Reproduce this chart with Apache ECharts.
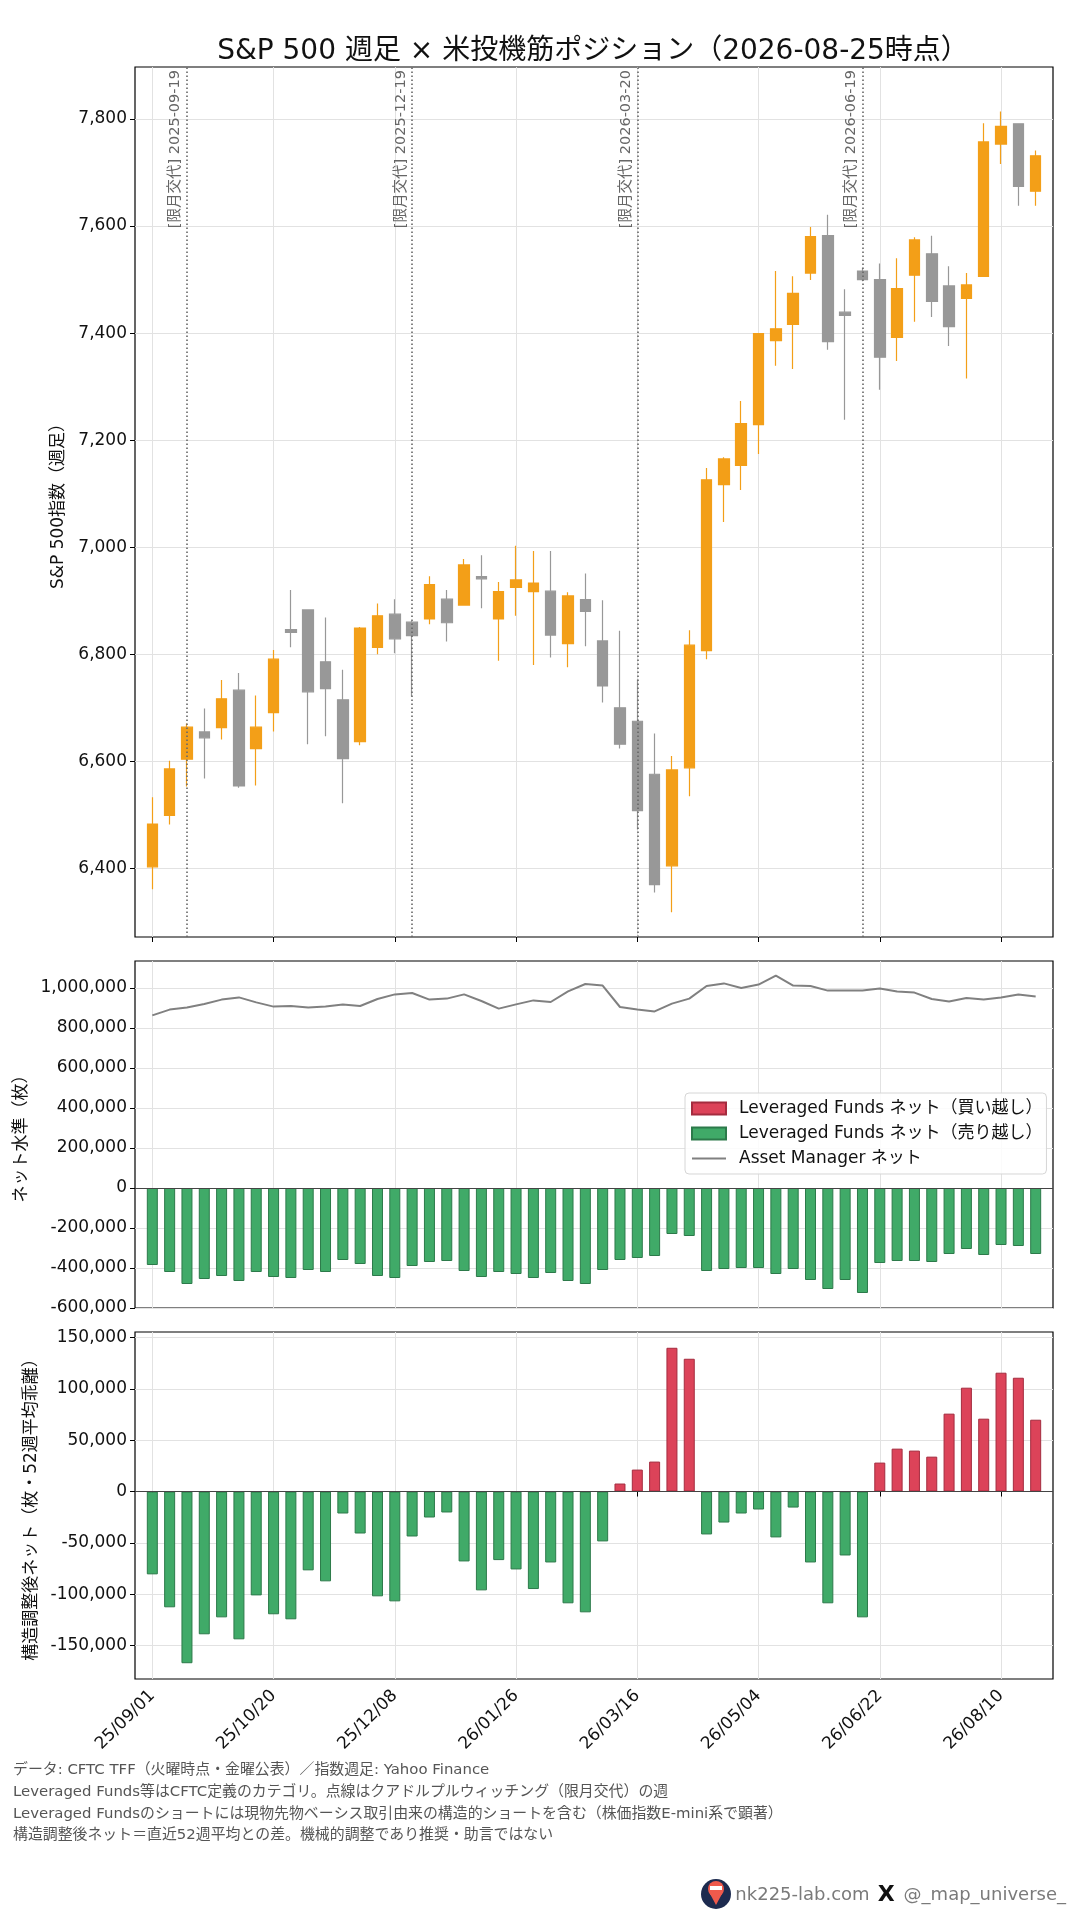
<!DOCTYPE html>
<html>
<head>
<meta charset="utf-8">
<script src="https://cdn.jsdelivr.net/npm/echarts@6/dist/echarts.min.js"></script>
<style>
  html, body { margin: 0; padding: 0; background: #fff; }
  #chart { width: 1080px; height: 1920px; }
</style>
</head>
<body>
<div id="chart"></div>
<script>
// weekly bars (Monday dates)
const WEEKS = [
  '25/09/01', '25/09/08', '25/09/15', '25/09/22', '25/09/29', '25/10/06', '25/10/13',
  '25/10/20', '25/10/27', '25/11/03', '25/11/10', '25/11/17', '25/11/24', '25/12/01',
  '25/12/08', '25/12/15', '25/12/22', '25/12/29', '26/01/05', '26/01/12', '26/01/19',
  '26/01/26', '26/02/02', '26/02/09', '26/02/16', '26/02/23', '26/03/02', '26/03/09',
  '26/03/16', '26/03/23', '26/03/30', '26/04/06', '26/04/13', '26/04/20', '26/04/27',
  '26/05/04', '26/05/11', '26/05/18', '26/05/25', '26/06/01', '26/06/08', '26/06/15',
  '26/06/22', '26/06/29', '26/07/06', '26/07/13', '26/07/20', '26/07/27', '26/08/03',
  '26/08/10', '26/08/17', '26/08/24'
];

const OPEN = [
  6403, 6499, 6604, 6655, 6663, 6733, 6624, 6691, 6846, 6883, 6786, 6715, 6637,
  6813, 6875, 6860, 6866, 6903, 6892, 6945, 6866, 6925, 6917, 6918, 6820, 6902,
  6825, 6700, 6675, 6576, 6405, 6588, 6807, 7117, 7153, 7229, 7386, 7416, 7512,
  7582, 7439, 7516, 7500, 7392, 7508, 7548, 7488, 7465, 7506, 7753, 7791, 7665
];
const CLOSE = [
  6483, 6586, 6664, 6644, 6717, 6554, 6664, 6791, 6841, 6730, 6736, 6605, 6849,
  6872, 6829, 6835, 6930, 6859, 6967, 6941, 6917, 6939, 6933, 6836, 6909, 6880,
  6741, 6632, 6508, 6370, 6584, 6817, 7126, 7165, 7231, 7399, 7408, 7474, 7580,
  7384, 7433, 7500, 7355, 7483, 7574, 7459, 7412, 7490, 7757, 7786, 7674, 7731
];
const LOW = [
  6361, 6482, 6553, 6568, 6641, 6551, 6555, 6656, 6813, 6632, 6647, 6522, 6630,
  6800, 6802, 6721, 6856, 6824, 6891, 6886, 6788, 6872, 6780, 6794, 6776, 6815,
  6710, 6624, 6473, 6355, 6318, 6535, 6791, 7047, 7107, 7174, 7339, 7333, 7499,
  7369, 7238, 7497, 7294, 7348, 7421, 7430, 7376, 7315, 7505, 7716, 7638, 7638
];
const HIGH = [
  6533, 6601, 6671, 6699, 6752, 6765, 6723, 6808, 6920, 6883, 6869, 6771, 6851,
  6895, 6903, 6862, 6946, 6920, 6978, 6985, 6935, 7003, 6993, 6993, 6916, 6951,
  6901, 6844, 6753, 6652, 6610, 6845, 7148, 7168, 7273, 7399, 7516, 7506, 7598,
  7621, 7482, 7522, 7530, 7540, 7579, 7582, 7525, 7512, 7792, 7814, 7791, 7741
];

// Leveraged Funds net / Asset Manager net (contracts)
const LF_NET = [
  -385000, -420000, -480000, -455000, -440000, -465000, -420000, -445000, -450000,
  -410000, -420000, -360000, -380000, -440000, -450000, -390000, -370000, -365000,
  -415000, -445000, -420000, -430000, -450000, -425000, -465000, -480000, -410000,
  -360000, -350000, -340000, -230000, -240000, -415000, -405000, -400000, -400000,
  -430000, -405000, -460000, -505000, -460000, -525000, -375000, -365000, -365000,
  -370000, -330000, -305000, -335000, -285000, -290000, -330000
];
const AM_NET = [
  863000, 892000, 903000, 920000, 942000, 953000, 928000, 907000, 910000, 903000,
  907000, 917000, 910000, 945000, 968000, 975000, 942000, 947000, 968000, 935000,
  897000, 918000, 938000, 930000, 983000, 1020000, 1012000, 905000, 893000, 883000,
  922000, 947000, 1010000, 1023000, 1000000, 1017000, 1062000, 1012000, 1010000,
  987000, 988000, 988000, 998000, 983000, 977000, 945000, 933000, 950000, 942000,
  953000, 967000, 958000
];
// structure-adjusted net (difference from trailing 52w mean)
const LF_ADJ = [
  -80700, -112800, -167300, -139100, -122600, -144000, -101200, -119600, -124500,
  -76800, -87500, -21400, -40900, -102100, -107000, -43800, -25300, -20400,
  -68100, -96300, -66800, -75900, -95000, -69100, -108900, -117700, -48600,
  7800, 21400, 29200, 140100, 129400, -41800, -30200, -21400, -17500,
  -44700, -15600, -69100, -108900, -62300, -122600, 28200, 41800, 39900,
  34000, 75900, 101200, 71000, 115800, 110900, 70000
];

const ROLL_WEEKS = ['25/09/15', '25/12/15', '26/03/16', '26/06/15'];
const ROLL_DATES = ['2025-09-19', '2025-12-19', '2026-03-20', '2026-06-19'];

const PRICE_TICKS = [6400, 6600, 6800, 7000, 7200, 7400, 7600, 7800];
const NET_TICKS = [-600000, -400000, -200000, 0, 200000, 400000, 600000, 800000, 1000000];
const ADJ_TICKS = [-150000, -100000, -50000, 0, 50000, 100000, 150000];

const TITLE = 'S&P 500 週足 × 米投機筋ポジション（2026-08-25時点）';
const NAME_LONG = 'Leveraged Funds ネット（買い越し）';
const NAME_SHORT = 'Leveraged Funds ネット（売り越し）';
const NAME_AM = 'Asset Manager ネット';
const FOOTER_LINES = [
  'データ: CFTC TFF（火曜時点・金曜公表）／指数週足: Yahoo Finance',
  'Leveraged Funds等はCFTC定義のカテゴリ。点線はクアドルプルウィッチング（限月交代）の週',
  'Leveraged Fundsのショートには現物先物ベーシス取引由来の構造的ショートを含む（株価指数E-mini系で顕著）',
  '構造調整後ネット＝直近52週平均との差。機械的調整であり推奨・助言ではない'
];

const FONT = "'DejaVu Sans', 'Noto Sans CJK JP', sans-serif";
const UP = '#f39f18';
const DOWN = '#989898';
const RED = '#dc4359';
const RED_EDGE = '#a42c3f';
const GREEN = '#40aa68';
const GREEN_EDGE = '#2c7a4a';
const GRID_COLOR = '#e2e2e2';

// one empty slot on each side gives matplotlib-like margins
const CATS = [' ', ...WEEKS, '  '];
const pad = (arr) => ['-', ...arr, '-'];
const tickAt = (i) => i >= 1 && (i - 1) % 7 === 0;
const fmt = (v) => v.toLocaleString('en-US');

const CANDLES = [['-', '-', '-', '-'],
  ...WEEKS.map((_, i) => [OPEN[i], CLOSE[i], LOW[i], HIGH[i]]),
  ['-', '-', '-', '-']];

const grids = [
  { left: 135, top: 67, width: 918, height: 870 },
  { left: 135, top: 961, width: 918, height: 347 },
  { left: 135, top: 1332, width: 918, height: 347 }
].map((g) => Object.assign(g, {
  show: true, borderColor: '#000', borderWidth: 1.2, backgroundColor: 'transparent',
  containLabel: false, outerBoundsMode: 'none'
}));

const xAxes = [0, 1, 2].map((gi) => ({
  type: 'category', gridIndex: gi, data: CATS, boundaryGap: false,
  axisLine: { show: false },
  axisTick: { show: true, interval: tickAt, length: 5, lineStyle: { color: '#000', width: 1 } },
  axisLabel: {
    show: gi === 2, interval: tickAt, rotate: 45, margin: 14,
    fontSize: 17, color: '#111', fontFamily: FONT
  },
  splitLine: { show: true, interval: tickAt, lineStyle: { color: GRID_COLOR, width: 1 } }
}));

const yBase = (gi, ticks, extra) => Object.assign({
  type: 'value', gridIndex: gi, scale: true,
  axisLine: { show: false },
  axisTick: { show: true, length: 5, customValues: ticks, lineStyle: { color: '#000', width: 1 } },
  axisLabel: { fontSize: 17, color: '#111', fontFamily: FONT, customValues: ticks, formatter: fmt },
  splitLine: { show: true, lineStyle: { color: GRID_COLOR, width: 1 } },
  nameLocation: 'middle',
  nameTextStyle: { fontSize: 17, color: '#111', fontFamily: FONT }
}, extra);

const yAxes = [
  yBase(0, PRICE_TICKS, { min: 6272, max: 7897, splitNumber: 8, name: 'S&P 500指数（週足）', nameGap: 58 }),
  yBase(1, NET_TICKS, { min: -600000, max: 1135000, interval: 200000, name: 'ネット水準（枚）', nameGap: 100 }),
  yBase(2, ADJ_TICKS, { min: -182670, max: 155470, splitNumber: 7, name: '構造調整後ネット（枚・52週平均乖離）', nameGap: 91 })
];

const zeroLine = {
  silent: true, symbol: ['none', 'none'], animation: false,
  label: { show: false },
  lineStyle: { color: '#444', width: 1, type: 'solid' },
  data: [{ yAxis: 0 }]
};

const longStyle = { color: RED, borderColor: RED_EDGE, borderWidth: 1 };
const shortStyle = { color: GREEN, borderColor: GREEN_EDGE, borderWidth: 1 };

const series = [
  {
    type: 'candlestick', xAxisIndex: 0, yAxisIndex: 0, barWidth: 11,
    data: CANDLES,
    itemStyle: { color: UP, color0: DOWN, borderColor: UP, borderColor0: DOWN, borderWidth: 1.2 },
    markLine: {
      silent: true, symbol: ['none', 'none'], animation: false,
      lineStyle: { color: '#666', width: 1.6, type: [1.6, 2.4] },
      label: {
        show: true, position: 'insideEndTop', distance: [3, 4],
        fontSize: 14.5, color: '#666', fontFamily: FONT
      },
      data: ROLL_WEEKS.map((w, k) => ({
        xAxis: w, label: { formatter: '[限月交代] ' + ROLL_DATES[k] }
      }))
    }
  },
  {
    name: NAME_LONG, type: 'bar', xAxisIndex: 1, yAxisIndex: 1, barWidth: 11,
    data: pad(LF_NET.map((v) => (v > 0 ? v : '-'))), itemStyle: longStyle
  },
  {
    name: NAME_SHORT, type: 'bar', xAxisIndex: 1, yAxisIndex: 1, barWidth: 11, barGap: '-100%',
    data: pad(LF_NET.map((v) => (v <= 0 ? v : '-'))), itemStyle: shortStyle,
    markLine: zeroLine
  },
  {
    name: NAME_AM, type: 'line', xAxisIndex: 1, yAxisIndex: 1, z: 5,
    data: pad(AM_NET), symbol: 'none',
    lineStyle: { color: '#808080', width: 2 }, itemStyle: { color: '#808080' }
  },
  {
    name: NAME_LONG, type: 'bar', xAxisIndex: 2, yAxisIndex: 2, barWidth: 11,
    data: pad(LF_ADJ.map((v) => (v > 0 ? v : '-'))), itemStyle: longStyle
  },
  {
    name: NAME_SHORT, type: 'bar', xAxisIndex: 2, yAxisIndex: 2, barWidth: 11, barGap: '-100%',
    data: pad(LF_ADJ.map((v) => (v <= 0 ? v : '-'))), itemStyle: shortStyle,
    markLine: zeroLine
  }
];

const graphic = [
  ...FOOTER_LINES.map((t, k) => ({
    type: 'text', left: 13, top: 1763 + k * 21.7,
    style: { text: t, fontSize: 14.9, fill: '#555', fontFamily: FONT }
  })),
  { type: 'circle', shape: { cx: 716, cy: 1894, r: 15 }, style: { fill: '#1d2b4f' } },
  { type: 'circle', shape: { cx: 716, cy: 1889, r: 8 }, style: { fill: '#ef5a4c' } },
  { type: 'polygon', shape: { points: [[709, 1892], [723, 1892], [716, 1905]] }, style: { fill: '#ef5a4c' } },
  { type: 'rect', shape: { x: 710, y: 1886, width: 12, height: 4 }, style: { fill: '#fff' } },
  {
    type: 'text', x: 1066, y: 1895,
    style: {
      text: '{a|nk225-lab.com}{x|X}{a|@_map_universe_}',
      align: 'right', verticalAlign: 'middle',
      rich: {
        a: { fontSize: 18, fill: '#7a7a7a', color: '#7a7a7a', fontFamily: FONT },
        x: { fontSize: 22, fontWeight: 'bold', fill: '#111', color: '#111', fontFamily: FONT,
          padding: [0, 9, 0, 8] }
      }
    }
  }
];

const chart = echarts.init(document.getElementById('chart'), null, { renderer: 'canvas' });
chart.setOption({
  animation: false,
  backgroundColor: '#fff',
  textStyle: { fontFamily: FONT },
  title: {
    text: TITLE, left: 588, top: 33, textAlign: 'center',
    textStyle: { fontSize: 28, fontWeight: 'normal', color: '#111', fontFamily: FONT }
  },
  legend: {
    orient: 'vertical', left: 685, top: 1093,
    itemWidth: 34, itemHeight: 12, itemGap: 8,
    padding: [7, 4, 7, 6],
    borderColor: '#d6d6d6', borderWidth: 1, borderRadius: 4,
    backgroundColor: 'rgba(255,255,255,0.85)',
    textStyle: { fontSize: 17, color: '#111', fontFamily: FONT, padding: [0, 0, 0, 8] },
    data: [
      { name: NAME_LONG, icon: 'rect' },
      { name: NAME_SHORT, icon: 'rect' },
      { name: NAME_AM, icon: 'path://M0,0H34V2H0Z' }
    ]
  },
  grid: grids,
  xAxis: xAxes,
  yAxis: yAxes,
  series: series,
  graphic: graphic
});
</script>
</body>
</html>
